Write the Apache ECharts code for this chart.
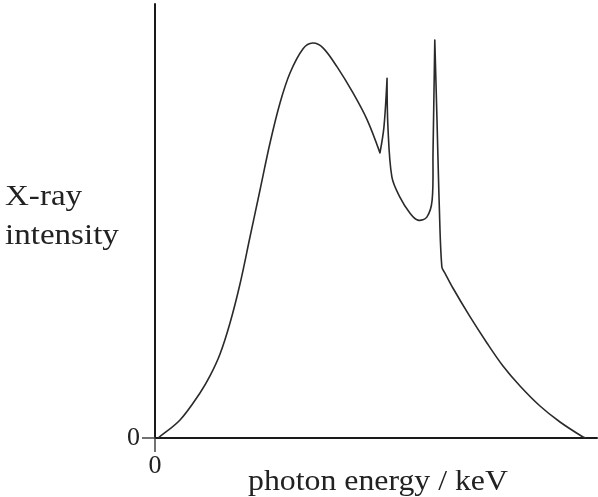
<!DOCTYPE html>
<html>
<head>
<meta charset="utf-8">
<script src="https://cdn.jsdelivr.net/npm/echarts@6/dist/echarts.min.js"></script>
<style>
html,body{margin:0;padding:0;background:#fff;}
#c{width:598px;height:497px;}
</style>
</head>
<body>
<div id="c"></div>
<script>
// photon energy (arbitrary units, 0-100) and X-ray intensity (arbitrary units, 0-100)
const energy = [0.7, 5.66, 10.18, 12.44, 14.71, 16.97, 19.23, 21.49, 23.76, 26.02, 28.28, 30.54, 33.5, 35.7, 38.0, 41.2, 44.8, 48.0, 50.9, 51.8, 52.5, 52.7, 53.6, 55.4, 57.7, 59.5, 61.5, 62.7, 62.9, 63.3, 63.8, 64.3, 64.9, 65.6, 67.4, 71.3, 75.1, 78.73, 82.58, 87.10, 91.63, 96.83, 97.5];
const intensity = [0, 4.15, 10.37, 14.29, 19.35, 26.5, 35.48, 46.31, 57.14, 67.97, 77.19, 84.1, 89.7, 91.0, 89.9, 85.5, 79.5, 73.3, 65.7, 71.7, 82.9, 71.7, 60.1, 55.5, 51.8, 50.2, 50.9, 54.8, 65.7, 91.7, 73.3, 54.1, 39.4, 38.0, 34.56, 27.9, 21.9, 16.59, 11.98, 7.37, 3.69, 0.23, 0];
const tickValues = [0];
const yLabelLines = ['X-ray', 'intensity'];
const xLabel = 'photon energy / keV';

const chart = echarts.init(document.getElementById('c'), null, {renderer: 'canvas'});
const font = '"Liberation Serif", "Times New Roman", serif';
const axisCol = '#1a1a1a';
const seriesData = energy.map((e, i) => [e, intensity[i]]);

// Smooth curve through the points (in pixel space after the axes' scales),
// keeping sharp corners where the direction turns back (peaks / spikes).
function buildPath(pts) {
  const n = pts.length;
  const norm = (v) => { const l = Math.hypot(v[0], v[1]) || 1; return [v[0] / l, v[1] / l]; };
  const tang = [];
  const corner = [];
  for (let i = 0; i < n; i++) {
    if (i === 0) { tang.push(norm([pts[1][0] - pts[0][0], pts[1][1] - pts[0][1]])); corner.push(false); continue; }
    if (i === n - 1) { tang.push(norm([pts[i][0] - pts[i - 1][0], pts[i][1] - pts[i - 1][1]])); corner.push(false); continue; }
    const a = norm([pts[i][0] - pts[i - 1][0], pts[i][1] - pts[i - 1][1]]);
    const b = norm([pts[i + 1][0] - pts[i][0], pts[i + 1][1] - pts[i][1]]);
    const dot = a[0] * b[0] + a[1] * b[1];
    corner.push(dot < Math.cos(Math.PI * 0.55));
    tang.push(norm([pts[i + 1][0] - pts[i - 1][0], pts[i + 1][1] - pts[i - 1][1]]));
  }
  let d = 'M' + pts[0][0] + ' ' + pts[0][1];
  for (let i = 0; i < n - 1; i++) {
    const p = pts[i], q = pts[i + 1];
    const len = Math.hypot(q[0] - p[0], q[1] - p[1]) / 3;
    const t0 = corner[i] ? [0, 0] : tang[i];
    const t1 = corner[i + 1] ? [0, 0] : tang[i + 1];
    const c1 = [p[0] + t0[0] * len, p[1] + t0[1] * len];
    const c2 = [q[0] - t1[0] * len, q[1] - t1[1] * len];
    d += ' C' + c1[0] + ' ' + c1[1] + ' ' + c2[0] + ' ' + c2[1] + ' ' + q[0] + ' ' + q[1];
  }
  return d;
}

chart.setOption({
  animation: false,
  backgroundColor: '#fff',
  grid: {left: 155, right: 1, top: 4, bottom: 59, containLabel: false},
  xAxis: {
    type: 'value', min: 0, max: 100, interval: 100,
    axisLine: {show: true, lineStyle: {color: axisCol, width: 2}},
    axisTick: {show: true, length: 14, customValues: tickValues, lineStyle: {color: '#444', width: 1.5}},
    axisLabel: {show: true, customValues: tickValues, margin: 15, fontFamily: font, fontSize: 26, color: '#222'},
    splitLine: {show: false}
  },
  yAxis: {
    type: 'value', min: 0, max: 100, interval: 100,
    axisLine: {show: true, lineStyle: {color: axisCol, width: 2}},
    axisTick: {show: true, length: 13, customValues: tickValues, lineStyle: {color: '#444', width: 1.5}},
    axisLabel: {show: true, customValues: tickValues, margin: 15, fontFamily: font, fontSize: 26, color: '#222'},
    splitLine: {show: false}
  },
  graphic: [
    {type: 'text', left: 5, top: 183, scaleX: 1.14, style: {text: yLabelLines[0], font: '29px ' + font, fill: '#222'}},
    {type: 'text', left: 5, top: 222, scaleX: 1.14, style: {text: yLabelLines[1], font: '29px ' + font, fill: '#222'}},
    {type: 'text', left: 248, top: 467, scaleX: 1.06, style: {text: xLabel, font: '30px ' + font, fill: '#222'}}
  ],
  series: [{
    type: 'custom',
    data: seriesData,
    clip: false,
    silent: true,
    renderItem: function (params, api) {
      if (params.dataIndex !== 0) return null;
      const pts = seriesData.map((d) => api.coord(d));
      return {
        type: 'path',
        shape: {pathData: buildPath(pts)},
        style: {stroke: '#2a2a2a', fill: 'none', lineWidth: 1.6, lineJoin: 'round'}
      };
    }
  }]
});
</script>
</body>
</html>
